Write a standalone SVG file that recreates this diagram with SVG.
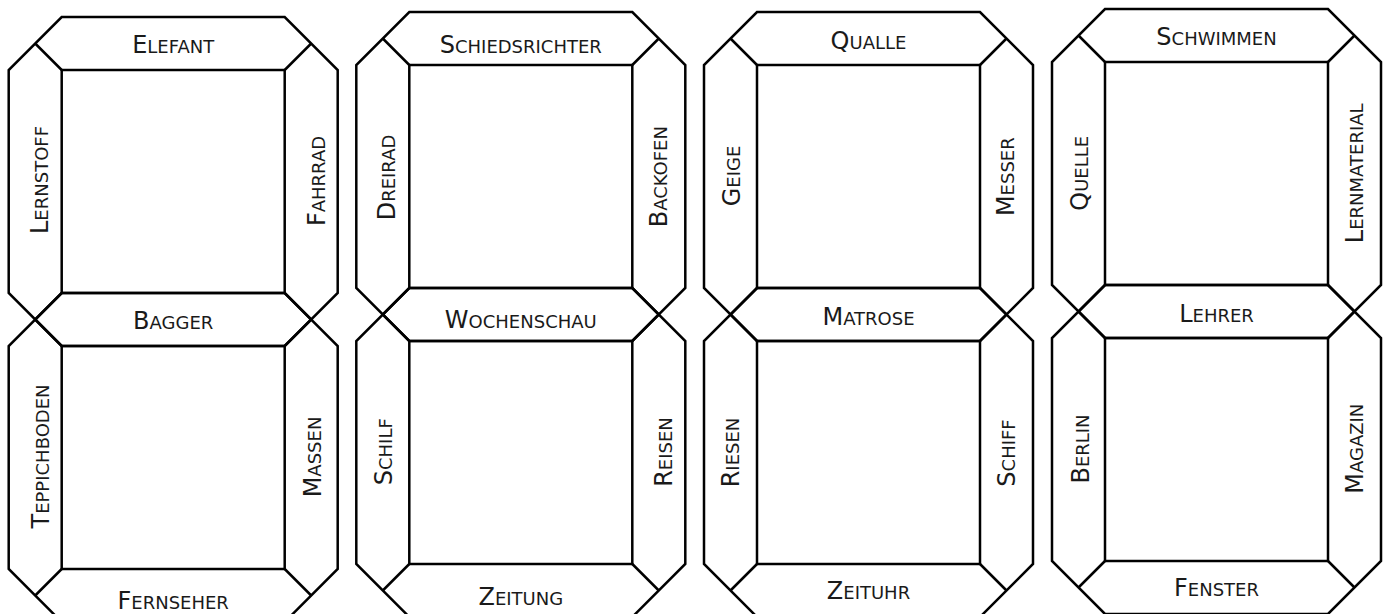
<svg xmlns="http://www.w3.org/2000/svg" width="1384" height="614" viewBox="0 0 1384 614">
<style>
.ln{fill:none;stroke:#000;stroke-width:2.5;stroke-linejoin:miter}
.t{font-family:"DejaVu Sans","Liberation Sans",sans-serif;font-size:18px;fill:#1a1a1a;text-anchor:middle}
.c{font-size:24px}
</style>
<rect width="1384" height="614" fill="#fff"/>
<g id="connectors"/>
<g id="frame1-top">
<polygon class="ln" points="61.7,17 284.7,17 337.7,70 337.7,293 284.7,346 61.7,346 8.7,293 8.7,70"/>
<rect class="ln" x="61.7" y="70" width="223" height="223"/>
<path class="ln" d="M61.7 70L35.2 43.5M284.7 70L311.2 43.5M284.7 293L311.2 319.5M61.7 293L35.2 319.5"/>
<text class="t" x="173.2" y="52.5"><tspan class="c">E</tspan>LEFANT</text>
<text class="t" transform="translate(39 180) rotate(-90)" y="8.5"><tspan class="c">L</tspan>ERNSTOFF</text>
<text class="t" transform="translate(316 181) rotate(-90)" y="8.5"><tspan class="c">F</tspan>AHRRAD</text>
</g>
<g id="frame1-bottom">
<polygon class="ln" points="61.7,293 284.7,293 337.7,346 337.7,569 284.7,622 61.7,622 8.7,569 8.7,346"/>
<rect class="ln" x="61.7" y="346" width="223" height="223"/>
<path class="ln" d="M61.7 346L35.2 319.5M284.7 346L311.2 319.5M284.7 569L311.2 595.5M61.7 569L35.2 595.5"/>
<text class="t" x="173.2" y="328.5"><tspan class="c">B</tspan>AGGER</text>
<text class="t" x="173.2" y="608.5"><tspan class="c">F</tspan>ERNSEHER</text>
<text class="t" transform="translate(40 456.5) rotate(-90)" y="8.5"><tspan class="c">T</tspan>EPPICHBODEN</text>
<text class="t" transform="translate(312 457) rotate(-90)" y="8.5"><tspan class="c">M</tspan>ASSEN</text>
</g>
<g id="frame2-top">
<polygon class="ln" points="409.3,12 632.3,12 685.3,65 685.3,288 632.3,341 409.3,341 356.3,288 356.3,65"/>
<rect class="ln" x="409.3" y="65" width="223" height="223"/>
<path class="ln" d="M409.3 65L382.8 38.5M632.3 65L658.8 38.5M632.3 288L658.8 314.5M409.3 288L382.8 314.5"/>
<text class="t" x="520.8" y="53"><tspan class="c">S</tspan>CHIEDSRICHTER</text>
<text class="t" transform="translate(386 177.5) rotate(-90)" y="8.5"><tspan class="c">D</tspan>REIRAD</text>
<text class="t" transform="translate(658 176.7) rotate(-90)" y="8.5"><tspan class="c">B</tspan>ACKOFEN</text>
</g>
<g id="frame2-bottom">
<polygon class="ln" points="409.3,288 632.3,288 685.3,341 685.3,564 632.3,617 409.3,617 356.3,564 356.3,341"/>
<rect class="ln" x="409.3" y="341" width="223" height="223"/>
<path class="ln" d="M409.3 341L382.8 314.5M632.3 341L658.8 314.5M632.3 564L658.8 590.5M409.3 564L382.8 590.5"/>
<text class="t" x="520.8" y="327.5"><tspan class="c">W</tspan>OCHENSCHAU</text>
<text class="t" x="520.8" y="604.5"><tspan class="c">Z</tspan>EITUNG</text>
<text class="t" transform="translate(383 451.7) rotate(-90)" y="8.5"><tspan class="c">S</tspan>CHILF</text>
<text class="t" transform="translate(663 452) rotate(-90)" y="8.5"><tspan class="c">R</tspan>EISEN</text>
</g>
<g id="frame3-top">
<polygon class="ln" points="757,12 980,12 1033,65 1033,288 980,341 757,341 704,288 704,65"/>
<rect class="ln" x="757" y="65" width="223" height="223"/>
<path class="ln" d="M757 65L730.5 38.5M980 65L1006.5 38.5M980 288L1006.5 314.5M757 288L730.5 314.5"/>
<text class="t" x="868.5" y="49"><tspan class="c">Q</tspan>UALLE</text>
<text class="t" transform="translate(731 176) rotate(-90)" y="8.5"><tspan class="c">G</tspan>EIGE</text>
<text class="t" transform="translate(1005.5 176.7) rotate(-90)" y="8.5"><tspan class="c">M</tspan>ESSER</text>
</g>
<g id="frame3-bottom">
<polygon class="ln" points="757,288 980,288 1033,341 1033,564 980,617 757,617 704,564 704,341"/>
<rect class="ln" x="757" y="341" width="223" height="223"/>
<path class="ln" d="M757 341L730.5 314.5M980 341L1006.5 314.5M980 564L1006.5 590.5M757 564L730.5 590.5"/>
<text class="t" x="868.5" y="324.5"><tspan class="c">M</tspan>ATROSE</text>
<text class="t" x="868.5" y="599"><tspan class="c">Z</tspan>EITUHR</text>
<text class="t" transform="translate(730.7 452.5) rotate(-90)" y="8.5"><tspan class="c">R</tspan>IESEN</text>
<text class="t" transform="translate(1006 453) rotate(-90)" y="8.5"><tspan class="c">S</tspan>CHIFF</text>
</g>
<g id="frame4-top">
<polygon class="ln" points="1105,9 1328,9 1381,62 1381,285 1328,338 1105,338 1052,285 1052,62"/>
<rect class="ln" x="1105" y="62" width="223" height="223"/>
<path class="ln" d="M1105 62L1078.5 35.5M1328 62L1354.5 35.5M1328 285L1354.5 311.5M1105 285L1078.5 311.5"/>
<text class="t" x="1216.5" y="44.5"><tspan class="c">S</tspan>CHWIMMEN</text>
<text class="t" transform="translate(1079 173.3) rotate(-90)" y="8.5"><tspan class="c">Q</tspan>UELLE</text>
<text class="t" transform="translate(1354 173.3) rotate(-90)" y="8.5"><tspan class="c">L</tspan>ERNMATERIAL</text>
</g>
<g id="frame4-bottom">
<polygon class="ln" points="1105,285 1328,285 1381,338 1381,561 1328,614 1105,614 1052,561 1052,338"/>
<rect class="ln" x="1105" y="338" width="223" height="223"/>
<path class="ln" d="M1105 338L1078.5 311.5M1328 338L1354.5 311.5M1328 561L1354.5 587.5M1105 561L1078.5 587.5"/>
<text class="t" x="1216.5" y="322"><tspan class="c">L</tspan>EHRER</text>
<text class="t" x="1216.5" y="596"><tspan class="c">F</tspan>ENSTER</text>
<text class="t" transform="translate(1080 449) rotate(-90)" y="8.5"><tspan class="c">B</tspan>ERLIN</text>
<text class="t" transform="translate(1354 448.7) rotate(-90)" y="8.5"><tspan class="c">M</tspan>AGAZIN</text>
</g>
</svg>
